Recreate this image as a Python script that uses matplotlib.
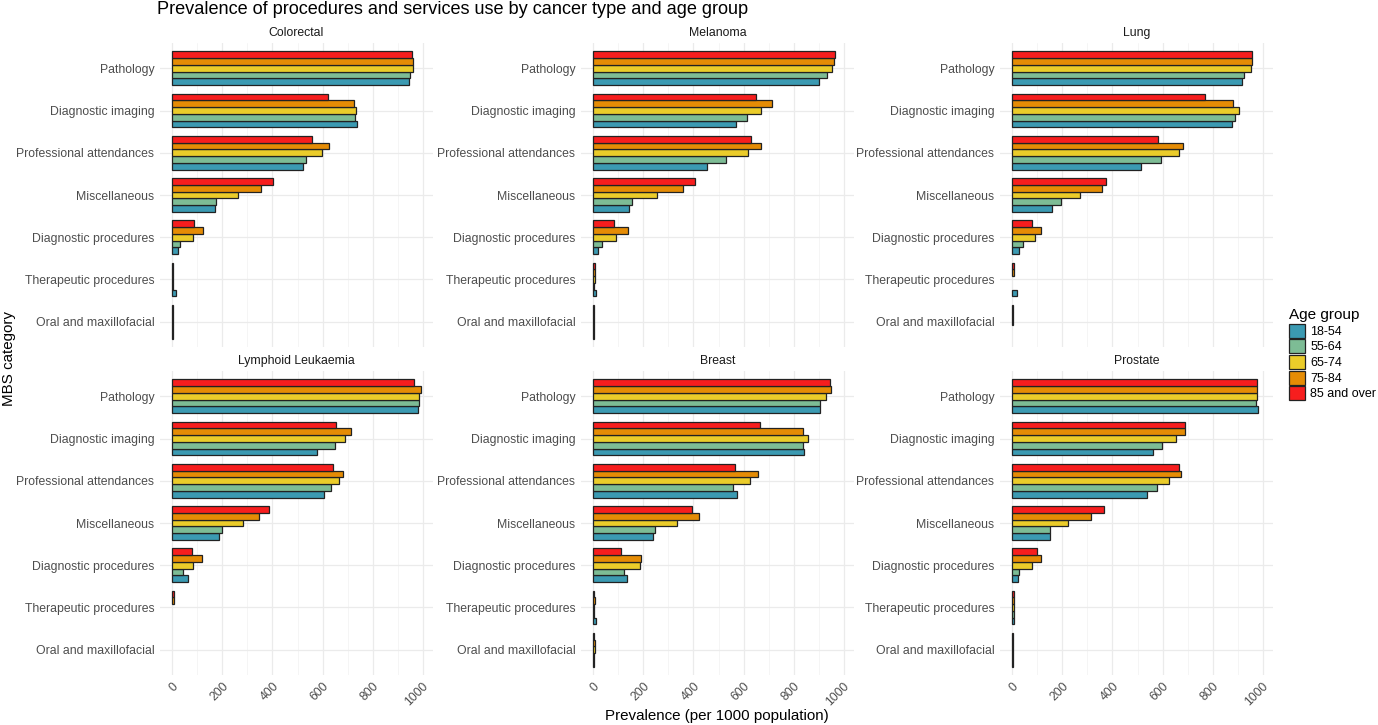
import numpy as np
import matplotlib
matplotlib.use("Agg")
import matplotlib.pyplot as plt
from matplotlib.patches import Patch

plt.rcParams['font.family'] = ['Liberation Sans', 'DejaVu Sans']

categories = ["Pathology", "Diagnostic imaging", "Professional attendances",
              "Miscellaneous", "Diagnostic procedures", "Therapeutic procedures",
              "Oral and maxillofacial"]
age_groups = ["18-54", "55-64", "65-74", "75-84", "85 and over"]
colours = ["#3B9AB2", "#7DBC95", "#EBCC2A", "#E58C05", "#F71E1E"]
nan = np.nan

# values per cancer type: rows = categories, columns = age groups
colorectal = [[945, 949, 963, 963, 959],
              [736, 729, 733, 725, 620],
              [521, 535, 599, 625, 557],
              [171, 176, 261, 353, 401],
              [23, 29, 81, 121, 85],
              [13, 1, 2, 3, 3],
              [1, 1, 1, 1, 1]]
melanoma = [[903, 933, 953, 963, 965],
            [571, 613, 668, 712, 648],
            [456, 528, 616, 669, 629],
            [144, 155, 255, 359, 407],
            [19, 35, 91, 137, 84],
            [12, 3, 5, 7, 7],
            [3, 3, 3, 3, 3]]
lung = [[919, 927, 952, 956, 956],
        [877, 891, 907, 880, 768],
        [515, 592, 664, 682, 580],
        [157, 195, 272, 357, 373],
        [26, 42, 90, 116, 79],
        [18, nan, nan, 8, 5],
        [nan, nan, 2, 2, 2]]
lymphoid = [[980, 987, 987, 992, 965],
            [577, 650, 690, 713, 653],
            [607, 632, 665, 681, 642],
            [186, 198, 284, 348, 385],
            [63, 41, 84, 119, 80],
            [nan, nan, nan, 7, 7],
            [nan, nan, nan, nan, nan]]
breast = [[907, 907, 931, 949, 945],
          [841, 839, 859, 839, 667],
          [573, 559, 624, 656, 567],
          [237, 248, 336, 423, 395],
          [133, 124, 187, 191, 112],
          [12, 3, 4, 7, 4],
          [1, 3, 5, 5, 4]]
prostate = [[980, 972, 976, 976, 976],
            [560, 599, 655, 688, 688],
            [539, 576, 624, 672, 665],
            [152, 149, 224, 313, 367],
            [24, 25, 79, 116, 99],
            [5, 5, 5, 5, 5],
            [3, 3, 3, 3, 3]]

panels = [("Colorectal", colorectal), ("Melanoma", melanoma), ("Lung", lung),
          ("Lymphoid Leukaemia", lymphoid), ("Breast", breast), ("Prostate", prostate)]

W, H = 1378, 725
fig = plt.figure(figsize=(W / 100, H / 100), dpi=100)

lefts = [160, 581, 1000]
tops = [43, 371]
pw, ph = 273, 304

bar_h = 0.8 / 5
y = np.arange(len(categories))[::-1]

for i, (name, vals) in enumerate(panels):
    r, c = divmod(i, 3)
    ax = fig.add_axes([lefts[c] / W, 1 - (tops[r] + ph) / H, pw / W, ph / H])
    vals = np.array(vals, dtype=float)
    for k in range(5):
        off = (k - 2) * bar_h
        ax.barh(y + off, vals[:, k], height=bar_h, color=colours[k],
                edgecolor="#222222", linewidth=0.9, zorder=3)
    ax.set_xlim(-49.6, 1041.6)
    ax.set_ylim(-0.6, len(categories) - 0.4)
    ax.set_yticks(y)
    ax.set_yticklabels(categories, fontsize=8.8, color="#4D4D4D")
    ax.set_xticks(np.arange(0, 1001, 200))
    ax.set_xticks(np.arange(100, 1000, 200), minor=True)
    ax.grid(True, which="major", color="#EBEBEB", linewidth=0.9, zorder=0)
    ax.grid(True, which="minor", axis="x", color="#F2F2F2", linewidth=0.5, zorder=0)
    ax.tick_params(length=0, which="both", pad=4)
    for s in ax.spines.values():
        s.set_visible(False)
    ax.set_title(name, fontsize=8.8, color="#1A1A1A", pad=5)
    if r == 1:
        ax.set_xticklabels([str(v) for v in range(0, 1001, 200)], rotation=45,
                           ha="right", va="top", rotation_mode="anchor",
                           fontsize=8.8, color="#4D4D4D")
        ax.tick_params(axis="x", pad=4)
    else:
        ax.set_xticklabels([])

fig.text(157 / W, 1 - 9 / H, "Prevalence of procedures and services use by cancer type and age group",
         fontsize=13.1, color="black", va="center", ha="left")
fig.text(717 / W, 1 - 716 / H, "Prevalence (per 1000 population)", fontsize=10.9,
         ha="center", va="center")
fig.text(9 / W, 1 - 358 / H, "MBS category", fontsize=10.9, rotation=90,
         ha="center", va="center")

handles = [Patch(facecolor=colours[k], edgecolor="#222222", linewidth=0.9, label=age_groups[k])
           for k in range(5)]
leg = fig.legend(handles=handles, title="Age group", loc="upper left",
                 bbox_to_anchor=(1289 / W, 1 - 308 / H), frameon=False,
                 fontsize=9.0, title_fontsize=11, handlelength=1.3, handleheight=1.35,
                 handletextpad=0.4, labelspacing=0.12, borderpad=0, borderaxespad=0)
leg._legend_box.align = "left"

fig.savefig("out.png", dpi=100, facecolor="white")
